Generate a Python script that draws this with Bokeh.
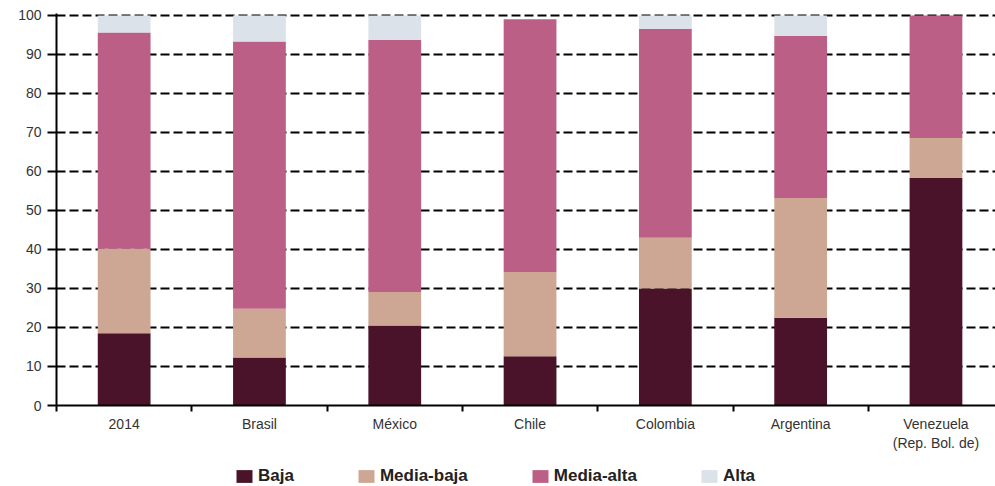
from bokeh.plotting import figure
from bokeh.layouts import column
from bokeh.models import (ColumnDataSource, FixedTicker, Range1d, Legend, LegendItem)
from bokeh.embed import file_html
from bokeh.resources import INLINE

categories = ["2014", "Brasil", "México", "Chile", "Colombia", "Argentina",
              "Venezuela\n(Rep. Bol. de)"]
baja = [18.5, 12.3, 20.5, 12.6, 30.0, 22.5, 58.3]
media_baja = [21.7, 12.5, 8.6, 21.6, 13.0, 30.7, 10.3]
media_alta = [55.4, 68.5, 64.7, 64.8, 53.6, 41.5, 31.4]
alta = [4.4, 6.7, 6.2, 0.0, 3.4, 5.3, 0.0]
series = ["Baja", "Media-baja", "Media-alta", "Alta"]
colors = ["#4a1329", "#cea794", "#bc5f86", "#dce2e9"]
y_ticks = [0, 10, 20, 30, 40, 50, 60, 70, 80, 90, 100]

xpos = [i + 0.5 for i in range(len(categories))]
source = ColumnDataSource(dict(x=xpos, Baja=baja, **{"Media-baja": media_baja,
                                                     "Media-alta": media_alta,
                                                     "Alta": alta}))

p = figure(width=995, height=458, output_backend="svg", toolbar_location=None,
           x_range=Range1d(0, 6.94), y_range=Range1d(0, 100.5),
           min_border_left=56, min_border_right=0, min_border_top=13,
           min_border_bottom=53)
p.outline_line_color = None
p.background_fill_color = "white"

p.vbar_stack(series, x="x", width=0.39, color=colors, source=source, line_color=None)

font = "Liberation Sans"
p.xaxis.ticker = FixedTicker(ticks=xpos, minor_ticks=list(range(0, 8)))
p.xaxis.major_label_overrides = {x: c for x, c in zip(xpos, categories)}
p.xaxis.major_tick_line_color = None
p.xaxis.minor_tick_line_color = "black"
p.xaxis.minor_tick_line_width = 2
p.xaxis.minor_tick_out = 6
p.xaxis.minor_tick_in = 0
p.xaxis.axis_line_width = 2
p.xaxis.axis_line_color = "black"
p.xaxis.major_label_text_font = font
p.xaxis.major_label_text_font_size = "14px"
p.xaxis.major_label_text_color = "#333333"
p.xaxis.major_label_standoff = 4

p.yaxis.ticker = FixedTicker(ticks=y_ticks)
p.yaxis.minor_tick_line_color = None
p.yaxis.major_tick_out = 9
p.yaxis.major_tick_in = 0
p.yaxis.major_tick_line_width = 2
p.yaxis.axis_line_width = 2
p.yaxis.axis_line_color = "black"
p.yaxis.major_label_text_font = font
p.yaxis.major_label_text_font_size = "14px"
p.yaxis.major_label_text_color = "#333333"
p.yaxis.major_label_standoff = 6

p.xgrid.grid_line_color = None
p.ygrid.ticker = FixedTicker(ticks=y_ticks[1:])
p.ygrid.grid_line_color = "black"
p.ygrid.grid_line_width = 2
p.ygrid.grid_line_dash = "9 4"

# legend strip (swatches only; dummy glyphs have zero height so draw nothing)
lg = figure(width=995, height=28, output_backend="svg", toolbar_location=None,
            x_range=Range1d(0, 1), y_range=Range1d(0, 1),
            x_axis_location=None, y_axis_location=None,
            min_border_left=0, min_border_right=0, min_border_top=0, min_border_bottom=0)
lg.outline_line_color = None
lg.xgrid.visible = False
lg.ygrid.visible = False
lr = [lg.vbar(x=[0.5], top=[0], bottom=[0], width=0.0, color=c, line_color=None)
      for c in colors]

legend = Legend(items=[LegendItem(label=s, renderers=[r]) for s, r in zip(series, lr)],
                orientation="horizontal", location=(178, 0),
                glyph_width=20, glyph_height=16, label_height=16,
                label_text_font=font, label_text_font_size="17px",
                label_text_font_style="bold", label_text_color="#222222",
                spacing=62, padding=0, margin=0, label_standoff=4,
                border_line_color=None, background_fill_alpha=0)
lg.add_layout(legend, "center")

layout = column(p, lg, spacing=0)
open("out.html", "w").write(file_html(layout, INLINE))
